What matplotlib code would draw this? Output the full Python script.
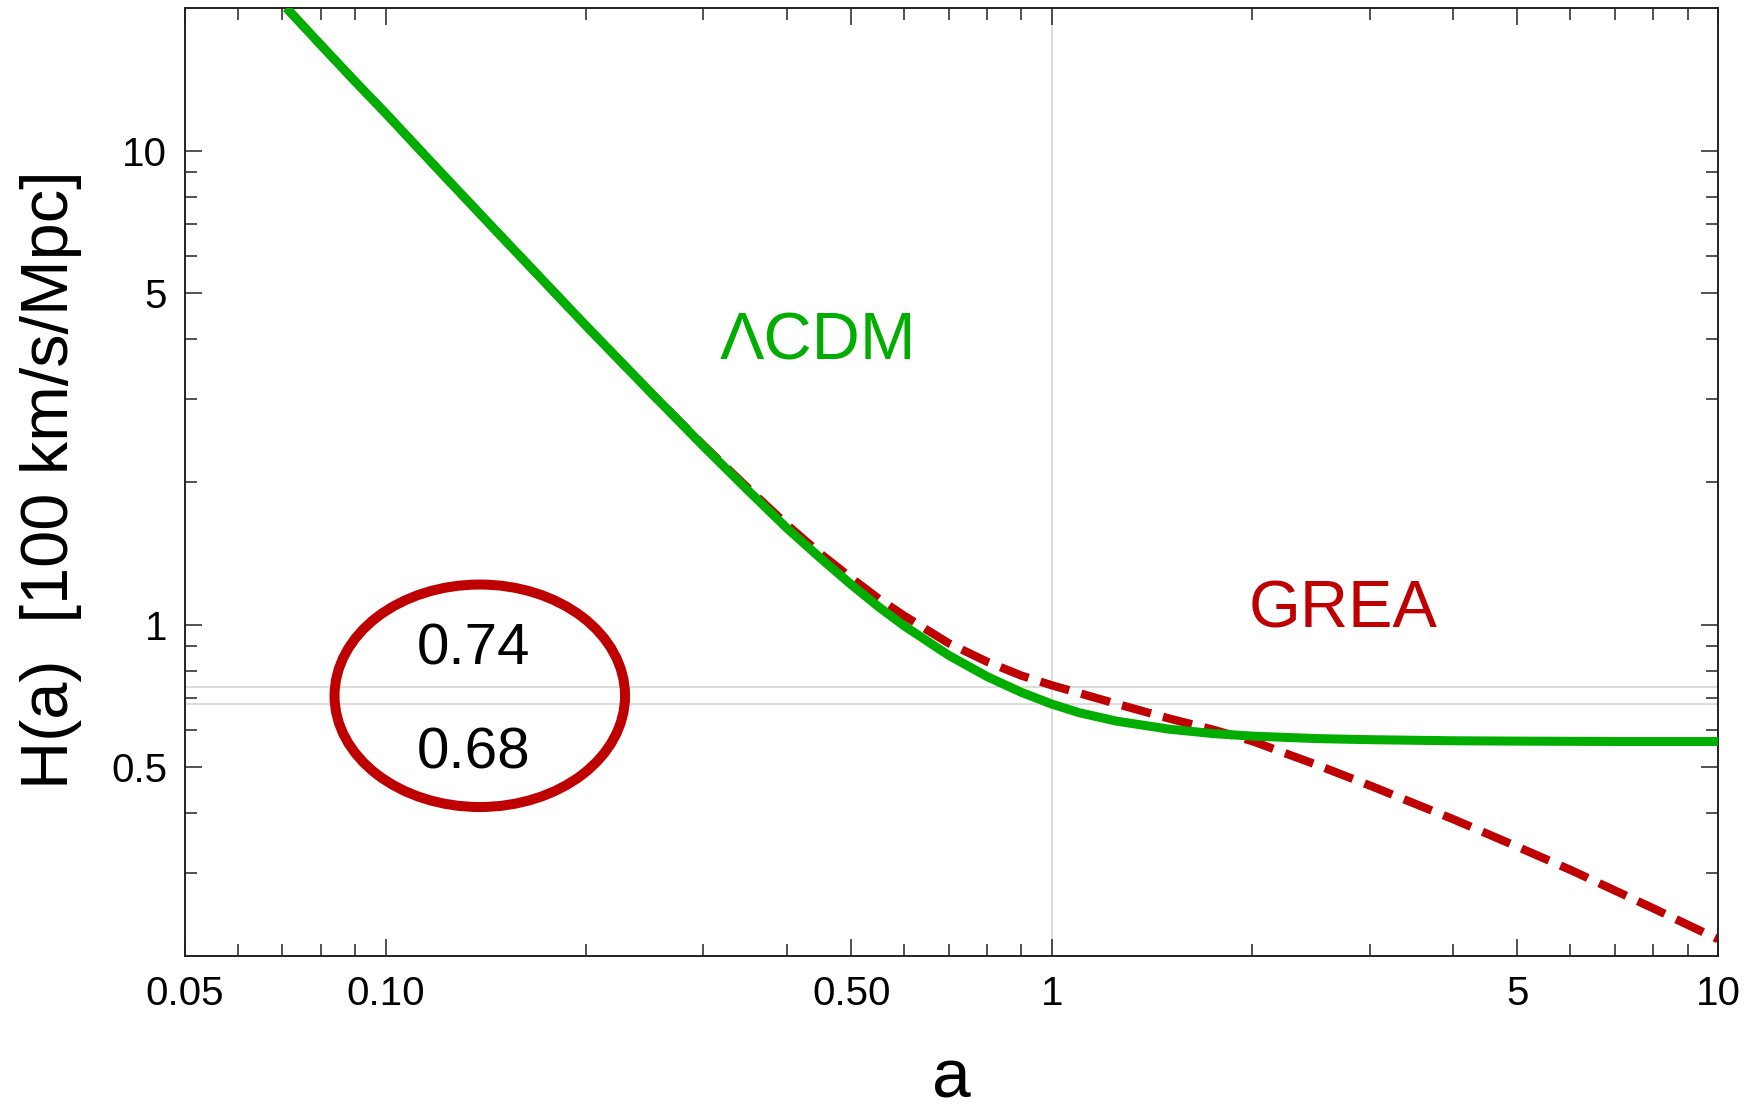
import matplotlib.pyplot as plt
from matplotlib.patches import Ellipse
from matplotlib.ticker import FixedLocator, FixedFormatter, NullFormatter

plt.rcParams['font.family'] = ['Liberation Sans', 'DejaVu Sans']

# Hubble rate H(a) in units of 100 km/s/Mpc
a_lcdm = [0.071, 0.08, 0.09, 0.10, 0.12, 0.15, 0.20, 0.25, 0.30, 0.35, 0.40,
          0.45, 0.50, 0.55, 0.60, 0.70, 0.80, 0.90, 1.00, 1.10, 1.25, 1.50,
          1.75, 2.00, 2.50, 3.00, 4.00, 5.00, 7.00, 10.0]
h_lcdm = [20.0, 16.7, 14.0, 12.0, 9.12, 6.54, 4.27, 3.09, 2.38, 1.92, 1.60,
          1.38, 1.215, 1.09, 0.995, 0.862, 0.777, 0.720, 0.680, 0.652, 0.626, 0.602,
          0.589, 0.582, 0.575, 0.572, 0.569, 0.568, 0.567, 0.567]

a_grea = [0.071, 0.08, 0.09, 0.10, 0.12, 0.15, 0.20, 0.25, 0.30, 0.35, 0.40,
          0.45, 0.50, 0.55, 0.60, 0.70, 0.80, 0.90, 1.00, 1.10, 1.25, 1.50,
          1.75, 2.00, 2.50, 3.00, 4.00, 5.00, 6.00, 7.00, 8.00, 10.0]
h_grea = [20.0, 16.7, 14.0, 12.0, 9.12, 6.54, 4.27, 3.09, 2.39, 1.94, 1.627,
          1.41, 1.255, 1.134, 1.045, 0.914, 0.835, 0.781, 0.745, 0.717, 0.681, 0.634,
          0.600, 0.568, 0.506, 0.458, 0.389, 0.340, 0.304, 0.275, 0.252, 0.217]

# present-day values marked by the reference lines
h0_values = [0.74, 0.68]
h0_labels = ['0.74', '0.68']

x_major = [0.05, 0.10, 0.50, 1, 5, 10]
x_labels = ['0.05', '0.10', '0.50', '1', '5', '10']
x_minor = [0.06, 0.07, 0.08, 0.09, 0.2, 0.3, 0.4, 0.6, 0.7, 0.8, 0.9,
           2, 3, 4, 6, 7, 8, 9]
y_major = [0.5, 1, 5, 10]
y_labels = ['0.5', '1', '5', '10']
y_minor = [0.3, 0.4, 0.6, 0.7, 0.8, 0.9, 2, 3, 4, 6, 7, 8, 9]

green = '#00ad00'
red = '#bf0000'
grey = '#d2d2d2'

fig = plt.figure(figsize=(17.6, 11.12), dpi=100)
ax = fig.add_axes([0.10511, 0.14029, 0.87102, 0.85252])
ax.set_xscale('log')
ax.set_yscale('log')

for h in h0_values:
    ax.axhline(h, color=grey, lw=1.1, zorder=1)
ax.axvline(1.0, color=grey, lw=1.1, zorder=1)

ax.plot(a_grea, h_grea, color=red, lw=6.0, ls=(0, (3.6, 1.5)),
        dash_capstyle='butt', zorder=2)
ax.plot(a_lcdm, h_lcdm, color=green, lw=6.5, solid_capstyle='butt', zorder=3)

ax.set_xlim(0.05, 10)
ax.set_ylim(0.2, 20)

ax.xaxis.set_major_locator(FixedLocator(x_major))
ax.xaxis.set_major_formatter(FixedFormatter(x_labels))
ax.xaxis.set_minor_locator(FixedLocator(x_minor))
ax.xaxis.set_minor_formatter(NullFormatter())
ax.yaxis.set_major_locator(FixedLocator(y_major))
ax.yaxis.set_major_formatter(FixedFormatter(y_labels))
ax.yaxis.set_minor_locator(FixedLocator(y_minor))
ax.yaxis.set_minor_formatter(NullFormatter())

ax.tick_params(which='both', direction='in', top=True, right=True,
               width=1.1, color='#222222', labelsize=29)
ax.tick_params(which='major', length=12)
ax.tick_params(which='minor', length=8.5)
ax.tick_params(axis='x', pad=14)
ax.tick_params(axis='y', pad=13)
for s in ax.spines.values():
    s.set_linewidth(1.4)
    s.set_color('#222222')

# curve labels
ax.text(0.4129, 0.6294, 'ΛCDM', color=green, fontsize=48, ha='center',
        va='baseline', transform=ax.transAxes)
ax.text(0.7554, 0.3467, 'GREA', color=red, fontsize=48, ha='center',
        va='baseline', transform=ax.transAxes)

# circled H0 values
ax.add_patch(Ellipse((0.1923, 0.2745), 0.1895, 0.2347, transform=ax.transAxes,
                     fill=False, edgecolor=red, lw=7.2, zorder=4))
ax.text(0.1882, 0.3070, h0_labels[0], fontsize=42, ha='center', va='baseline',
        transform=ax.transAxes)
ax.text(0.1882, 0.1983, h0_labels[1], fontsize=42, ha='center', va='baseline',
        transform=ax.transAxes)

fig.text(68 / 1760, 1 - 480 / 1112, 'H(a)  [100 km/s/Mpc]', fontsize=48,
         rotation=90, rotation_mode='anchor', ha='center', va='baseline')
fig.text(951 / 1760, 1 - 1111 / 1112, 'a', fontsize=50, ha='center', va='bottom')

fig.savefig('out.png', dpi=100)
